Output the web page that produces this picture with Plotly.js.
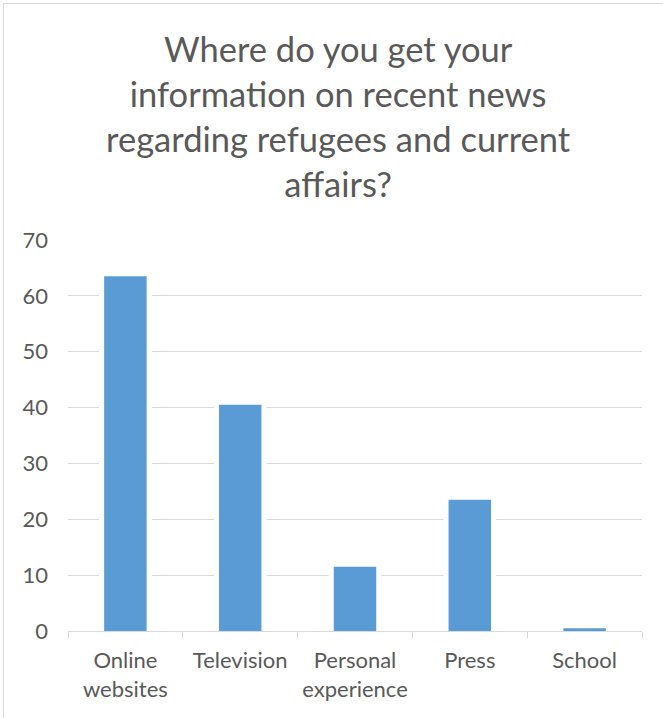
<!DOCTYPE html>
<html>
<head>
<meta charset="utf-8">
<script src="https://cdn.plot.ly/plotly-3.0.1.min.js"></script>
<style>
  html, body { margin: 0; padding: 0; background: #fff; overflow: hidden; }
  #frame { position: absolute; left: 3px; top: 3px; width: 720px; height: 800px; border: 1px solid #d9d9d9; box-sizing: border-box; }
  #chart { position: absolute; left: 0; top: 0; width: 663px; height: 718px; }
</style>
</head>
<body>
<div id="frame"></div>
<div id="chart"></div>
<script>
const categories = ["Online<br>websites", "Television", "Personal<br>experience", "Press", "School"];
const values = [63.5, 40.5, 11.5, 23.5, 0.5];
const yTicks = [0, 10, 20, 30, 40, 50, 60, 70];
const chartTitle = "Where do you get your<br>information on recent news<br>regarding refugees and current<br>affairs?";

const font = "Lato, 'Open Sans', sans-serif";
const textColor = "#595959";

const traces = [
  {
    type: "bar", x: categories, y: values, width: 0.46,
    marker: { color: "#ffffff" }, hoverinfo: "skip", showlegend: false
  },
  {
    type: "bar", x: categories, y: values, width: 0.37,
    marker: { color: "#5b9bd5" }, showlegend: false
  }
];

const layout = {
  width: 663, height: 718,
  margin: { l: 68, r: 21, t: 240, b: 87 },
  paper_bgcolor: "rgba(0,0,0,0)",
  plot_bgcolor: "rgba(0,0,0,0)",
  barmode: "overlay",
  title: {
    text: chartTitle,
    font: { family: font, size: 34.5, color: textColor },
    x: 0.51, xanchor: "center", xref: "container",
    y: 1 - 62 / 718, yanchor: "top", yref: "container"
  },
  xaxis: {
    type: "category",
    tickson: "boundaries",
    ticks: "outside", ticklen: 6, tickcolor: "#d9d9d9", tickwidth: 1,
    showline: true, linecolor: "#d9d9d9", linewidth: 1,
    showgrid: false, zeroline: false,
    ticklabelstandoff: 10,
    tickfont: { family: font, size: 22, color: textColor },
    range: [-0.5, 4.5]
  },
  yaxis: {
    range: [0, 70],
    tickvals: yTicks, ticktext: yTicks.map(String),
    showgrid: true, gridcolor: "#d9d9d9", gridwidth: 1,
    zeroline: false, showline: false, ticks: "",
    ticklabelstandoff: 19,
    tickfont: { family: font, size: 22, color: textColor }
  }
};

Plotly.newPlot("chart", traces, layout, { staticPlot: true, displayModeBar: false });
</script>
</body>
</html>
